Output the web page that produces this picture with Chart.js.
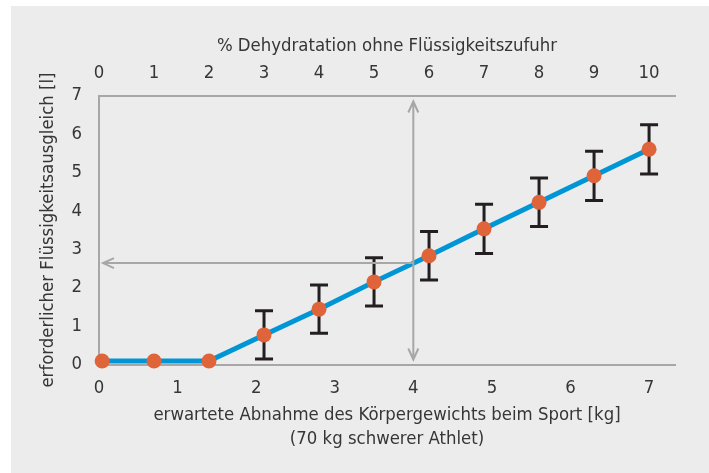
<!DOCTYPE html>
<html>
<head>
<meta charset="utf-8">
<script src="https://cdn.jsdelivr.net/npm/chart.js@4/dist/chart.umd.min.js"></script>
<style>
  html, body { margin: 0; padding: 0; background: #ffffff; }
  #box { position: absolute; left: 11px; top: 6px; width: 698px; height: 467px; background: #ececed; }
</style>
</head>
<body>
<div id="box"><canvas id="chart"></canvas></div>
<script>
// data
var weightKg   = [0.04, 0.7, 1.4, 2.1, 2.8, 3.5, 4.2, 4.9, 5.6, 6.3, 7.0];   // Abnahme Körpergewicht [kg]
var fluidL     = [0.09, 0.09, 0.09, 0.77, 1.44, 2.15, 2.83, 3.53, 4.22, 4.91, 5.60]; // Flüssigkeitsausgleich [l]
var fluidErr   = [null, null, null, 0.63, 0.63, 0.63, 0.63, 0.64, 0.63, 0.64, 0.64];
var kgTicks    = [0, 1, 2, 3, 4, 5, 6, 7];
var pctTicks   = [0, 1, 2, 3, 4, 5, 6, 7, 8, 9, 10];
var literTicks = [0, 1, 2, 3, 4, 5, 6, 7];
var kgPerPct   = 0.7;      // 70 kg Athlet: 1 % = 0.7 kg
var xMax = 7.33, yMax = 7;

// reading example: 4 kg -> 2.64 l
var readKg = 4.0, readL = 2.64;

var gray = '#a7a7a7';
var textColor = '#363636';
var fnt = { family: "'Liberation Sans Narrow', 'DejaVu Sans Condensed', sans-serif", size: 18.4 };

// error bars, drawn under the line
var errorBars = {
  id: 'errorBars',
  beforeDatasetsDraw: function(chart) {
    var ctx = chart.ctx, xs = chart.scales.x, ys = chart.scales.y;
    ctx.save();
    ctx.strokeStyle = '#231f20';
    ctx.lineWidth = 3;
    for (var i = 0; i < weightKg.length; i++) {
      if (fluidErr[i] == null) continue;
      var px = xs.getPixelForValue(weightKg[i]);
      var top = ys.getPixelForValue(fluidL[i] + fluidErr[i]);
      var bot = ys.getPixelForValue(fluidL[i] - fluidErr[i]);
      ctx.beginPath();
      ctx.moveTo(px, top); ctx.lineTo(px, bot);
      ctx.moveTo(px - 9, top); ctx.lineTo(px + 9, top);
      ctx.moveTo(px - 9, bot); ctx.lineTo(px + 9, bot);
      ctx.stroke();
    }
    ctx.restore();
  }
};

// reading arrows
var readArrows = {
  id: 'readArrows',
  afterDatasetsDraw: function(chart) {
    var ctx = chart.ctx, xs = chart.scales.x, ys = chart.scales.y;
    var ax = xs.getPixelForValue(readKg);
    var ay = ys.getPixelForValue(readL);
    var yTop = ys.getPixelForValue(yMax) + 6, yBot = ys.getPixelForValue(0) - 5;
    var xLeft = xs.getPixelForValue(0) + 4;
    ctx.save();
    ctx.strokeStyle = gray;
    ctx.lineWidth = 2;
    ctx.beginPath();
    ctx.moveTo(ax, yTop); ctx.lineTo(ax, yBot);
    ctx.moveTo(ax - 5, yTop + 11); ctx.lineTo(ax, yTop); ctx.lineTo(ax + 5, yTop + 11);
    ctx.moveTo(ax - 5, yBot - 11); ctx.lineTo(ax, yBot); ctx.lineTo(ax + 5, yBot - 11);
    ctx.moveTo(ax, ay); ctx.lineTo(xLeft, ay);
    ctx.moveTo(xLeft + 11, ay - 5); ctx.lineTo(xLeft, ay); ctx.lineTo(xLeft + 11, ay + 5);
    ctx.stroke();
    ctx.restore();
  }
};

var ctx = document.getElementById('chart').getContext('2d');
var chart = new Chart(ctx, {
  type: 'scatter',
  data: {
    datasets: [{
      data: weightKg.map(function(v, i) { return { x: v, y: fluidL[i] }; }),
      showLine: true,
      borderColor: '#0096d6',
      borderWidth: 5,
      pointRadius: 7.5,
      pointBackgroundColor: '#e0643a',
      pointBorderWidth: 0,
      clip: false
    }]
  },
  options: {
    responsive: true,
    maintainAspectRatio: false,
    animation: false,
    layout: { padding: { left: 0, top: 0, right: 34, bottom: 0 } },
    plugins: { legend: { display: false }, tooltip: { enabled: false } },
    scales: {
      x: {
        type: 'linear', position: 'bottom', min: 0, max: xMax,
        grid: { display: false, drawTicks: false },
        border: { display: true, color: gray, width: 2 },
        ticks: { font: fnt, color: textColor, padding: 13, maxRotation: 0 },
        afterBuildTicks: function(s) { s.ticks = kgTicks.map(function(v) { return { value: v }; }); },
        afterFit: function(s) { s.height = 108.5; },
        title: {
          display: true,
          text: ['erwartete Abnahme des Körpergewichts beim Sport [kg]', '(70 kg schwerer Athlet)'],
          font: { family: fnt.family, size: 18.4, lineHeight: 24 / 18.4 }, color: textColor,
          padding: { top: 0, bottom: 22 }
        }
      },
      x2: {
        type: 'linear', position: 'top', min: 0, max: xMax / kgPerPct,
        grid: { display: false, drawTicks: false },
        border: { display: true, color: gray, width: 2 },
        ticks: { font: fnt, color: textColor, padding: 11, maxRotation: 0 },
        afterBuildTicks: function(s) { s.ticks = pctTicks.map(function(v) { return { value: v }; }); },
        afterFit: function(s) { s.height = 89.5; },
        title: {
          display: true, text: '% Dehydratation ohne Flüssigkeitszufuhr',
          font: fnt, color: textColor, padding: { top: 29, bottom: 0 }
        }
      },
      y: {
        type: 'linear', position: 'left', min: 0, max: yMax,
        grid: { display: false, drawTicks: false },
        border: { display: true, color: gray, width: 2 },
        ticks: { font: fnt, color: textColor, padding: 17 },
        afterBuildTicks: function(s) { s.ticks = literTicks.map(function(v) { return { value: v }; }); },
        afterFit: function(s) { s.width = 88; },
        title: {
          display: true, text: 'erforderlicher Flüssigkeitsausgleich [l]',
          font: fnt, color: textColor, padding: { top: 26, bottom: 0 }
        }
      }
    }
  },
  plugins: [errorBars, readArrows]
});
</script>
</body>
</html>
